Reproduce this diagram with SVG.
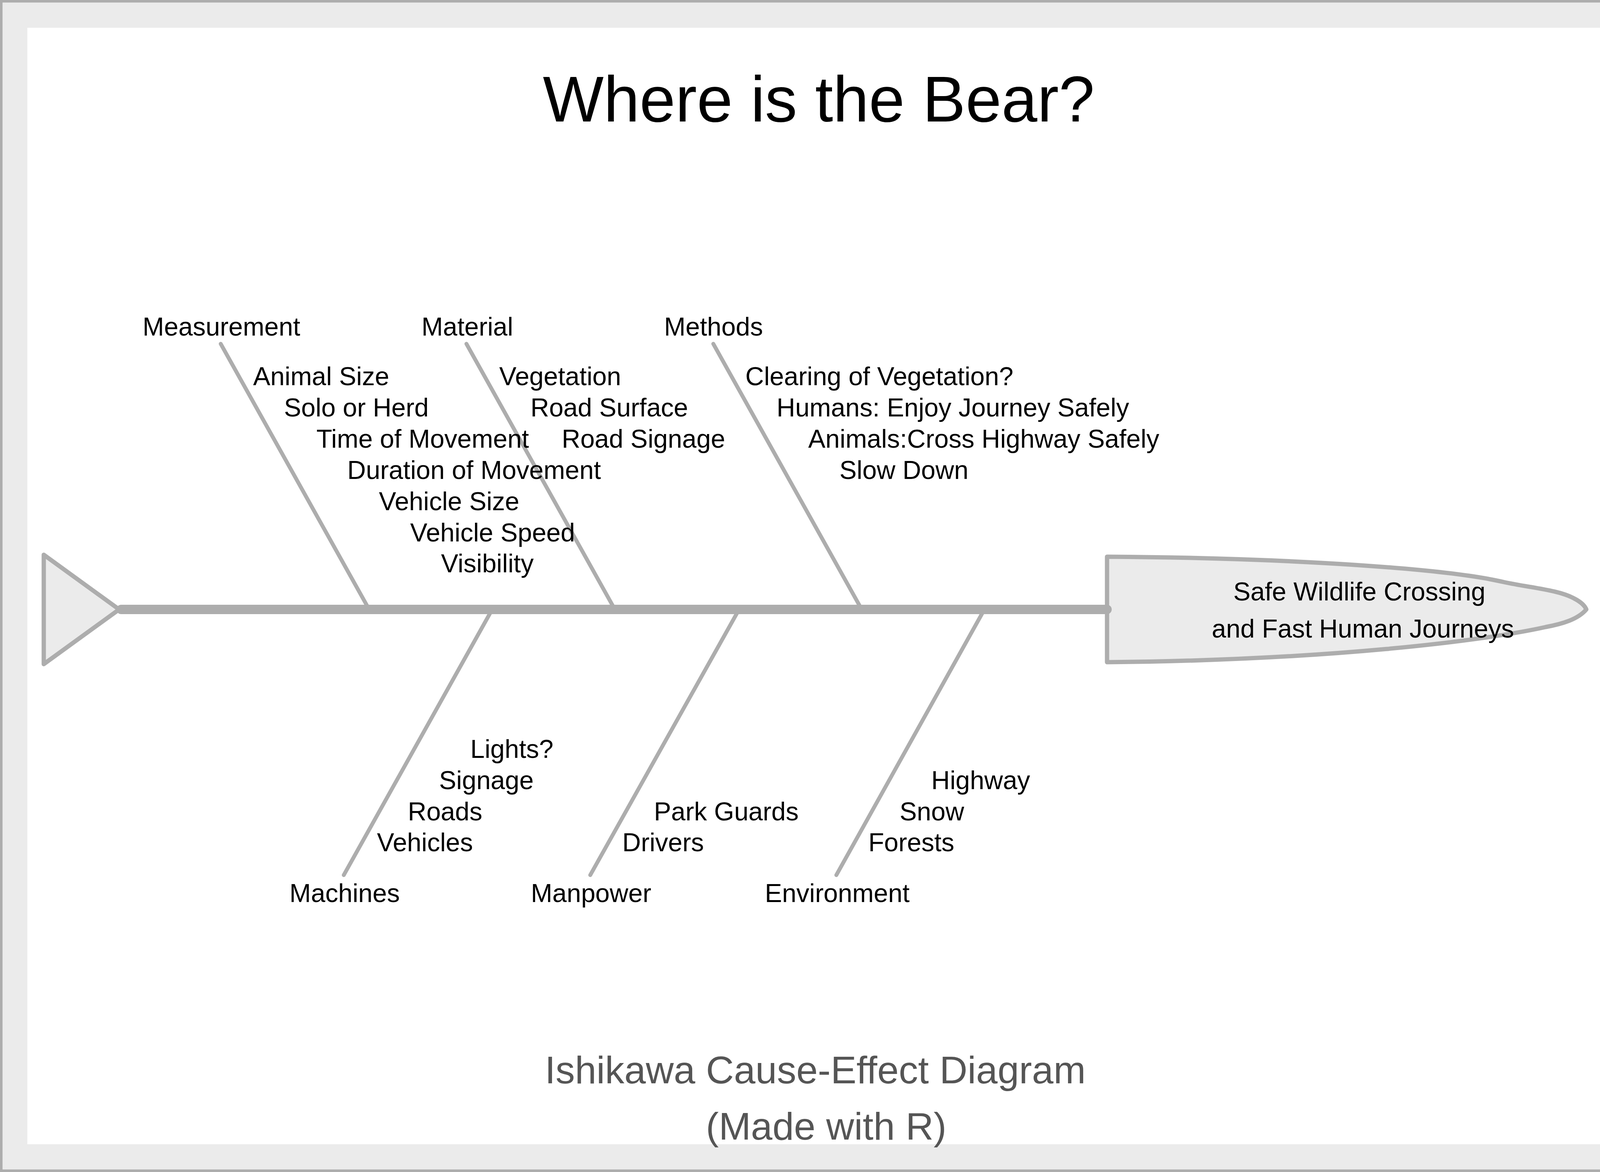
<svg xmlns="http://www.w3.org/2000/svg" width="4200" height="3000" viewBox="0 0 4200 3000">
<style>
  text { font-family: "Liberation Sans", Arial, sans-serif; }
  .lbl { font-size: 66px; fill: #000000; }
  .bone { stroke: #ADADAD; stroke-width: 10; stroke-linecap: round; fill: none; }
  .spine { stroke: #ADADAD; stroke-width: 24; stroke-linecap: round; fill: none; }
  .shape { fill: #EBEBEB; stroke: #ADADAD; stroke-width: 11; stroke-linejoin: round; }
  .title { font-size: 165px; fill: #000000; text-anchor: middle; }
  .foot { font-size: 99px; fill: #555555; text-anchor: middle; }
</style>
<g id="frame">
  <rect x="0" y="0" width="4200" height="3000" fill="#EBEBEB" stroke="#ADADAD" stroke-width="13"/>
  <rect x="70" y="71" width="4059" height="2858" fill="#FFFFFF"/>
</g>
<g id="title">
  <text class="title" x="2096" y="311">Where is the Bear?</text>
</g>
<g id="head">
  <path class="shape" d="M 2834 1425 C 3300 1428 3700 1455 3850 1490 C 3920 1505 3990 1510 4030 1532 Q 4055 1545 4061 1560 C 4040 1585 4000 1597 3957 1605 C 3800 1640 3400 1690 2834 1695 Z"/>
  <text class="lbl" x="3480" y="1537" text-anchor="middle">Safe Wildlife Crossing</text>
  <text class="lbl" x="3489" y="1632" text-anchor="middle">and Fast Human Journeys</text>
</g>
<g id="tail">
  <path class="shape" d="M 112 1420 L 305 1560 L 112 1700 Z"/>
</g>
<g id="connectors">
  <line class="bone" x1="565" y1="880" x2="945" y2="1560"/>
  <line class="bone" x1="1194" y1="880" x2="1574" y2="1560"/>
  <line class="bone" x1="1826" y1="880" x2="2206" y2="1560"/>
  <line class="bone" x1="1260" y1="1560" x2="880" y2="2240"/>
  <line class="bone" x1="1892" y1="1560" x2="1511" y2="2240"/>
  <line class="bone" x1="2520" y1="1560" x2="2141" y2="2240"/>
  <line class="spine" x1="310" y1="1560" x2="2834" y2="1560"/>
</g>
<g id="cat-measurement">
  <text class="lbl" x="365" y="859">Measurement</text>
  <text class="lbl" x="648" y="986">Animal Size</text>
  <text class="lbl" x="727" y="1066">Solo or Herd</text>
  <text class="lbl" x="810" y="1146">Time of Movement</text>
  <text class="lbl" x="889" y="1226">Duration of Movement</text>
  <text class="lbl" x="970" y="1306">Vehicle Size</text>
  <text class="lbl" x="1050" y="1386">Vehicle Speed</text>
  <text class="lbl" x="1129" y="1465">Visibility</text>
</g>
<g id="cat-material">
  <text class="lbl" x="1079" y="859">Material</text>
  <text class="lbl" x="1278" y="986">Vegetation</text>
  <text class="lbl" x="1358" y="1066">Road Surface</text>
  <text class="lbl" x="1438" y="1146">Road Signage</text>
</g>
<g id="cat-methods">
  <text class="lbl" x="1700" y="859">Methods</text>
  <text class="lbl" x="1908" y="986">Clearing of Vegetation?</text>
  <text class="lbl" x="1988" y="1066">Humans: Enjoy Journey Safely</text>
  <text class="lbl" x="2069" y="1146">Animals:Cross Highway Safely</text>
  <text class="lbl" x="2149" y="1226">Slow Down</text>
</g>
<g id="cat-machines">
  <text class="lbl" x="741" y="2309">Machines</text>
  <text class="lbl" x="1204" y="1940">Lights?</text>
  <text class="lbl" x="1124" y="2020">Signage</text>
  <text class="lbl" x="1044" y="2100">Roads</text>
  <text class="lbl" x="965" y="2179">Vehicles</text>
</g>
<g id="cat-manpower">
  <text class="lbl" x="1359" y="2309">Manpower</text>
  <text class="lbl" x="1674" y="2100">Park Guards</text>
  <text class="lbl" x="1593" y="2179">Drivers</text>
</g>
<g id="cat-environment">
  <text class="lbl" x="1958" y="2309">Environment</text>
  <text class="lbl" x="2384" y="2020">Highway</text>
  <text class="lbl" x="2303" y="2100">Snow</text>
  <text class="lbl" x="2223" y="2179">Forests</text>
</g>
<g id="footer">
  <text class="foot" x="2087" y="2773">Ishikawa Cause-Effect Diagram</text>
  <text class="foot" x="2115" y="2917">(Made with R)</text>
</g>
</svg>
